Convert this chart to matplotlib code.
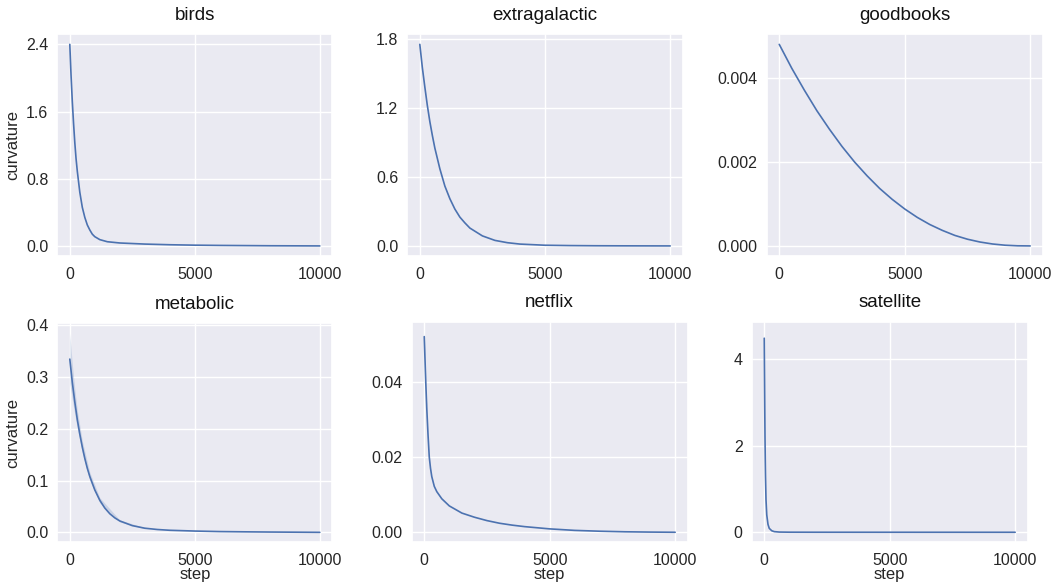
import matplotlib
matplotlib.use("Agg")
import matplotlib.pyplot as plt
import seaborn as sns

# curvature vs. training step
birds_step = [0, 50, 100, 150, 200, 250, 300, 400, 500, 600, 700, 800, 900, 1000,
              1200, 1500, 2000, 3000, 4000, 5000, 6000, 7000, 8000, 9000, 10000]
birds_val = [2.40, 2.03, 1.72, 1.46, 1.23, 1.04, 0.89, 0.64, 0.46, 0.34, 0.25, 0.19, 0.14, 0.11,
             0.075, 0.05, 0.035, 0.022, 0.014, 0.009, 0.006, 0.004, 0.002, 0.001, 0.0]

extra_step = [0, 100, 200, 300, 400, 500, 600, 800, 1000, 1200, 1400, 1600, 1800, 2000,
              2500, 3000, 3500, 4000, 5000, 6000, 7000, 8000, 10000]
extra_val = [1.75, 1.55, 1.38, 1.22, 1.08, 0.96, 0.85, 0.67, 0.52, 0.41, 0.32, 0.25, 0.20, 0.155,
             0.087, 0.048, 0.028, 0.016, 0.006, 0.003, 0.0015, 0.0008, 0.0]

good_step = [0, 500, 1000, 1500, 2000, 2500, 3000, 3500, 4000, 4500, 5000,
             5500, 6000, 6500, 7000, 7500, 8000, 8500, 9000, 9500, 10000]
good_val = [0.00480, 0.00423, 0.00371, 0.00322, 0.00278, 0.00237, 0.00200, 0.00167, 0.00137,
            0.00111, 0.00088, 0.00068, 0.00051, 0.00037, 0.00025, 0.00016, 0.000093,
            0.000046, 0.000017, 0.000003, 0.0]

metab_step = [0, 100, 200, 300, 400, 500, 600, 700, 800, 1000, 1200, 1400, 1600, 1800, 2000,
              2500, 3000, 3500, 4000, 5000, 6000, 7000, 8000, 9000, 10000]
metab_val = [0.335, 0.29, 0.252, 0.218, 0.19, 0.165, 0.143, 0.124, 0.108, 0.082, 0.062, 0.047,
             0.036, 0.028, 0.022, 0.013, 0.008, 0.0055, 0.004, 0.0025, 0.0015, 0.001, 0.0006,
             0.0003, 0.0]
metab_band_step = [0, 100, 200, 300, 500, 800, 1200, 2000, 3000]
metab_lo = [0.288, 0.257, 0.228, 0.201, 0.154, 0.100, 0.057, 0.020, 0.007]
metab_hi = [0.385, 0.325, 0.277, 0.236, 0.177, 0.116, 0.067, 0.024, 0.009]

netflix_step = [0, 30, 60, 100, 150, 200, 250, 300, 400, 500, 700, 1000, 1500, 2000, 2500,
                3000, 3500, 4000, 5000, 6000, 7000, 8000, 9000, 10000]
netflix_val = [0.052, 0.046, 0.040, 0.033, 0.026, 0.020, 0.017, 0.0148, 0.0122, 0.0108, 0.0089,
               0.0070, 0.0051, 0.0040, 0.0031, 0.0024, 0.0019, 0.0015, 0.0009, 0.0005,
               0.00028, 0.00013, 0.00005, 0.0]
netflix_band_step = [0, 30, 60, 100]
netflix_lo = [0.0505, 0.0450, 0.0393, 0.0326]
netflix_hi = [0.0533, 0.0470, 0.0407, 0.0334]

sat_step = [0, 10, 20, 30, 40, 50, 70, 100, 150, 200, 300, 400, 600, 1000, 2000, 5000, 10000]
sat_val = [4.48, 3.7, 2.9, 2.2, 1.7, 1.3, 0.75, 0.4, 0.18, 0.09, 0.035, 0.015, 0.005, 0.002,
           0.001, 0.0005, 0.0]
sat_band_step = [0, 10, 20, 30, 40, 50]
sat_lo = [4.33, 3.58, 2.81, 2.13, 1.65, 1.27]
sat_hi = [4.63, 3.82, 2.99, 2.27, 1.75, 1.33]

titles = ["birds", "extragalactic", "goodbooks", "metabolic", "netflix", "satellite"]
steps = [birds_step, extra_step, good_step, metab_step, netflix_step, sat_step]
values = [birds_val, extra_val, good_val, metab_val, netflix_val, sat_val]
bands = [None, None, None,
         (metab_band_step, metab_lo, metab_hi),
         (netflix_band_step, netflix_lo, netflix_hi),
         (sat_band_step, sat_lo, sat_hi)]

xticks = [0, 5000, 10000]
yticks = [
    [0.0, 0.8, 1.6, 2.4],
    [0.0, 0.6, 1.2, 1.8],
    [0.0, 0.002, 0.004],
    [0.0, 0.1, 0.2, 0.3, 0.4],
    [0.0, 0.02, 0.04],
    [0, 2, 4],
]
ytick_fmt = ["{:.1f}", "{:.1f}", "{:.3f}", "{:.1f}", "{:.2f}", "{:.0f}"]

# axes boxes in pixels: left, top, right, bottom
boxes = [
    (57.3, 34.3, 332.3, 256.0),
    (407.3, 34.3, 682.7, 256.0),
    (766.7, 34.3, 1042.7, 256.0),
    (57.3, 323.3, 332.3, 542.3),
    (411.7, 321.7, 687.7, 542.3),
    (751.7, 321.7, 1027.7, 542.3),
]

sns.set_theme(style="darkgrid")
plt.rcParams["font.family"] = ["Liberation Sans", "DejaVu Sans"]
plt.rcParams["xtick.labelsize"] = 11.5
plt.rcParams["ytick.labelsize"] = 11.5
plt.rcParams["axes.labelsize"] = 12
plt.rcParams["xtick.major.pad"] = 2
plt.rcParams["ytick.major.size"] = 0
plt.rcParams["ytick.major.pad"] = 6.5

W, H = 1052, 582
color = "#4C72B0"
fig = plt.figure(figsize=(W / 100, H / 100), dpi=100)

for i, name in enumerate(titles):
    l, t, r, b = boxes[i]
    ax = fig.add_axes([l / W, 1 - b / H, (r - l) / W, (b - t) / H])
    if bands[i] is not None:
        bs, lo, hi = bands[i]
        ax.fill_between(bs, lo, hi, color=color, alpha=0.2, linewidth=0)
    ax.plot(steps[i], values[i], color=color, linewidth=1.2)
    ax.set_xticks(xticks)
    ax.set_xticklabels([str(x) for x in xticks])
    ax.set_yticks(yticks[i])
    ax.set_yticklabels([ytick_fmt[i].format(y) for y in yticks[i]])
    ax.set_title(name, fontsize=13.5, color="#111111", pad=10.5)
    if i % 3 == 0:
        ax.set_ylabel("curvature", labelpad=4)
    if i >= 3:
        ax.set_xlabel("step", labelpad=-1)

fig.savefig("out.png", dpi=100)
